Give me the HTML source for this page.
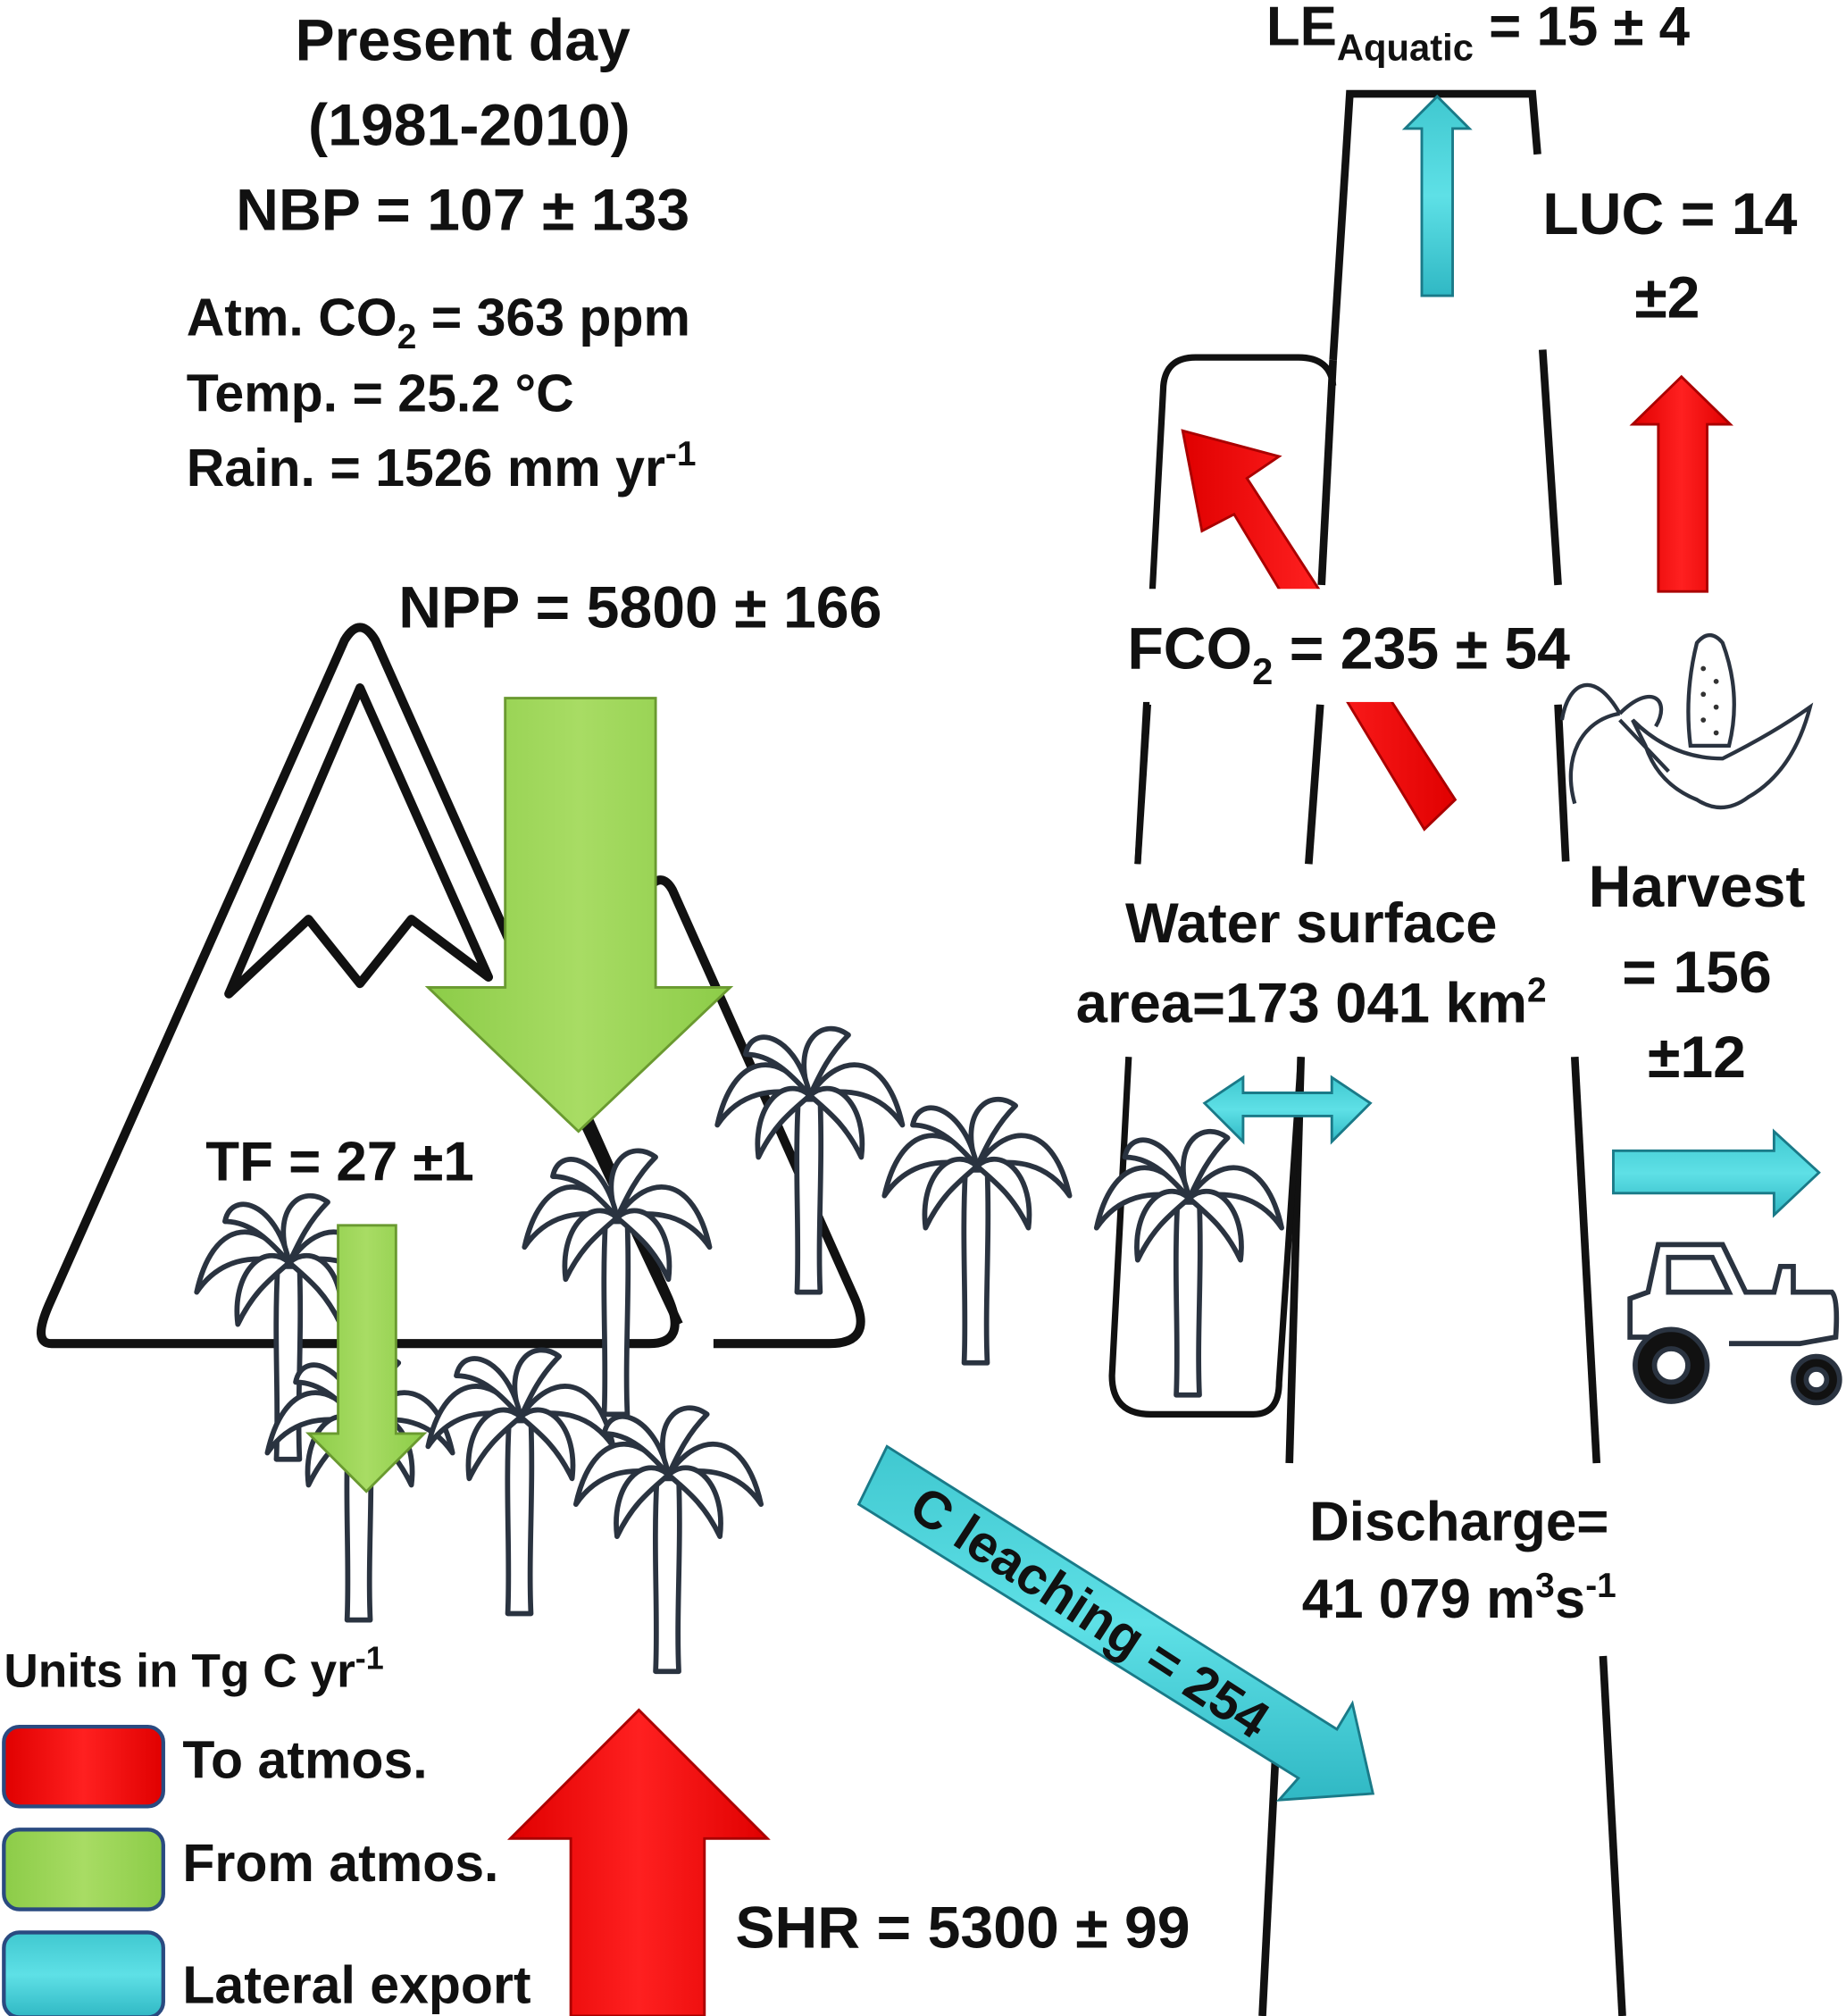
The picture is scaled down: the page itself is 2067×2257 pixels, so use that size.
<!DOCTYPE html>
<html><head><meta charset="utf-8"><style>
html,body{margin:0;padding:0;background:#fff}
svg{display:block}
text{font-family:"Liberation Sans",sans-serif;font-weight:bold;fill:#111}
</style></head><body>
<svg width="2067" height="2257" viewBox="0 0 1436 1568" xmlns="http://www.w3.org/2000/svg">
<defs>
<linearGradient id="g" x1="0" x2="1"><stop offset="0" stop-color="#8ccc48"/><stop offset=".5" stop-color="#a8dc64"/><stop offset="1" stop-color="#8ccc48"/></linearGradient>
<linearGradient id="r" x1="0" x2="1"><stop offset="0" stop-color="#e00000"/><stop offset=".5" stop-color="#ff2020"/><stop offset="1" stop-color="#e00000"/></linearGradient>
<linearGradient id="c" x1="0" y1="0" x2="0" y2="1"><stop offset="0" stop-color="#40c8d0"/><stop offset=".5" stop-color="#5ee0e6"/><stop offset="1" stop-color="#30b8c4"/></linearGradient>
<g id="palm" fill="#fff" stroke="#2a3340" stroke-width="4" stroke-linejoin="round">
<path d="M-9,25 C-12,80 -8,130 -10,175 L8,175 C6,130 10,80 8,25 Z"/>
<path d="M0,22 C-25,-15 -60,-10 -72,45 C-55,20 -30,15 0,22 Z"/>
<path d="M0,22 C25,-15 60,-10 72,45 C55,20 30,15 0,22 Z"/>
<path d="M0,22 C-15,-20 10,-40 30,-25 C15,-10 8,5 0,22 Z"/>
<path d="M0,22 C-10,-25 -45,-35 -50,-10 C-30,-10 -15,5 0,22 Z"/>
<path d="M0,22 C-20,5 -45,30 -40,70 C-28,45 -15,35 0,22 Z"/>
<path d="M0,22 C20,5 45,30 40,70 C28,45 15,35 0,22 Z"/>
</g>
</defs>

<text x="360" y="47" font-size="46" text-anchor="middle">Present day</text>
<text x="365" y="113" font-size="46" text-anchor="middle">(1981-2010)</text>
<text x="360" y="179" font-size="46" text-anchor="middle">NBP = 107 ± 133</text>
<text x="145" y="261" font-size="41">Atm. CO<tspan font-size="27" dy="10">2</tspan><tspan dy="-10"> = 363 ppm</tspan></text>
<text x="145" y="320" font-size="41">Temp. = 25.2 °C</text>
<text x="145" y="378" font-size="41">Rain. = 1526 mm yr<tspan font-size="27" dy="-16">-1</tspan></text>
<text x="310" y="488" font-size="46">NPP = 5800 ± 166</text>

<g fill="none" stroke="#111" stroke-width="7" stroke-linejoin="round">
<path d="M505,690 Q515,678 523,692 L665,1010 Q680,1045 645,1045 L555,1045"/>
<path d="M40,1045 Q25,1045 38,1015 L268,498 Q280,478 292,498 L520,1010 Q535,1045 505,1045 Z" fill="#fff"/>
<path d="M178,773 L280,535 L380,760 L320,715 L280,765 L240,715 Z"/>
<path d="M420,800 L528,1030"/>
</g>

<g fill="none" stroke="#111" stroke-width="6">
<path d="M1037,280 L1050,73 L1192,73 L1196,120"/>
<path d="M1037,280 L1028,455"/>
<path d="M1027,548 L1018,672"/>
<path d="M1012,822 L1003,1138"/>
<path d="M992,1370 L982,1568"/>
<path d="M1200,272 L1212,455"/>
<path d="M1212,548 L1218,670"/>
<path d="M1225,822 L1242,1138"/>
<path d="M1247,1288 L1262,1568"/>
<path d="M885,672 L905,300 Q907,278 930,278 L1010,278 Q1035,278 1037,300" stroke-width="5"/>
<path d="M893,548 L885,672" stroke-width="5"/>
<path d="M878,822 L865,1070 Q865,1100 895,1100 L975,1100 Q995,1100 995,1075 L1012,822" stroke-width="5"/>
</g>

<use href="#palm" transform="translate(630,830)"/>
<use href="#palm" transform="translate(760,885)"/>
<use href="#palm" transform="translate(925,910)"/>
<use href="#palm" transform="translate(480,925)"/>
<use href="#palm" transform="translate(225,960)"/>
<use href="#palm" transform="translate(280,1085)"/>
<use href="#palm" transform="translate(405,1080)"/>
<use href="#palm" transform="translate(520,1125)"/>

<polygon points="1132,622 1108,645 960,400 935,413 920,335 995,355 970,372" fill="url(#r)" stroke="#a00" stroke-width="2"/>
<rect x="868" y="458" width="340" height="88" fill="#fff"/>
<text x="877" y="520" font-size="46">FCO<tspan font-size="29" dy="12">2</tspan><tspan dy="-12"> = 235 ± 54</tspan></text>

<polygon points="393,543 510,543 510,768 568,768 450,880 333,768 393,768" fill="url(#g)" stroke="#6a9a30" stroke-width="2"/>
<polygon points="263,953 308,953 308,1115 330,1115 285,1160 240,1115 263,1115" fill="url(#g)" stroke="#6a9a30" stroke-width="2"/>
<text x="160" y="918" font-size="43">TF = 27 ±1</text>

<polygon points="444,1568 444,1430 397,1430 497,1330 597,1430 548,1430 548,1568" fill="url(#r)" stroke="#a00" stroke-width="2"/>
<text x="572" y="1515" font-size="46">SHR = 5300 ± 99</text>

<polygon points="668,1170 690,1125 1040,1345 1052,1325 1068,1395 995,1400 1010,1383" fill="url(#c)" stroke="#1a7a88" stroke-width="2"/>
<text font-size="41" transform="translate(705,1178) rotate(33)">C leaching = 254</text>

<polygon points="1106,230 1130,230 1130,100 1143,100 1118,75 1093,100 1106,100" fill="url(#c)" stroke="#1a7a88" stroke-width="2"/>
<text x="985" y="35" font-size="43">LE<tspan font-size="29" dy="12">Aquatic</tspan><tspan dy="-12"> = 15 ± 4</tspan></text>

<text x="1200" y="182" font-size="46">LUC = 14</text>
<text x="1297" y="247" font-size="46" text-anchor="middle">±2</text>
<polygon points="1290,460 1328,460 1328,330 1346,330 1308,293 1270,330 1290,330" fill="url(#r)" stroke="#a00" stroke-width="2"/>

<g fill="#fff" stroke="#2a3340" stroke-width="3">
<path d="M1320,500 Q1310,540 1315,580 L1345,580 Q1355,540 1340,500 Q1330,488 1320,500 Z"/>
<path d="M1270,560 Q1300,590 1340,590 Q1380,570 1408,550 Q1395,600 1360,620 Q1340,635 1320,622 Q1290,610 1280,580 Z"/>
<path d="M1260,555 C1240,520 1220,530 1215,560 M1260,555 C1230,560 1215,590 1225,625 M1260,555 C1285,530 1300,545 1288,565 M1260,560 L1298,600"/>
</g>
<g fill="#333"><circle cx="1325" cy="520" r="2"/><circle cx="1335" cy="530" r="2"/><circle cx="1325" cy="540" r="2"/><circle cx="1335" cy="550" r="2"/><circle cx="1325" cy="560" r="2"/><circle cx="1335" cy="570" r="2"/></g>

<text x="1320" y="705" font-size="46" text-anchor="middle">Harvest</text>
<text x="1320" y="772" font-size="46" text-anchor="middle">= 156</text>
<text x="1320" y="838" font-size="46" text-anchor="middle">±12</text>
<polygon points="1255,895 1380,895 1380,880 1415,912 1380,945 1380,928 1255,928" fill="url(#c)" stroke="#1a7a88" stroke-width="2"/>

<g fill="#fff" stroke="#2a3340" stroke-width="4">
<path d="M1285,1040 L1268,1040 L1268,1010 L1282,1005 L1290,968 L1340,968 L1358,1005 L1380,1005 L1385,985 L1395,985 L1395,1005 L1425,1005 Q1430,1010 1428,1040 L1400,1045 L1345,1045"/>
<path d="M1298,978 L1332,978 L1345,1005 L1298,1005 Z"/>
<circle cx="1300" cy="1062" r="28" fill="#111"/><circle cx="1300" cy="1062" r="13"/>
<circle cx="1413" cy="1073" r="18" fill="#111"/><circle cx="1413" cy="1073" r="8"/>
</g>

<text x="1020" y="733" font-size="44" text-anchor="middle">Water surface</text>
<text x="1020" y="795" font-size="44" text-anchor="middle">area=173 041 km<tspan font-size="27" dy="-16">2</tspan></text>
<polygon points="937,858 967,838 967,850 1036,850 1036,838 1066,858 1036,888 1036,868 967,868 967,888" fill="url(#c)" stroke="#1a7a88" stroke-width="2"/>

<text x="1135" y="1198" font-size="43" text-anchor="middle">Discharge=</text>
<text x="1135" y="1258" font-size="43" text-anchor="middle">41 079 m<tspan font-size="27" dy="-16">3</tspan><tspan dy="16">s</tspan><tspan font-size="27" dy="-16">-1</tspan></text>

<text x="3" y="1312" font-size="37">Units in Tg C yr<tspan font-size="25" dy="-14">-1</tspan></text>
<rect x="3" y="1343" width="124" height="62" rx="12" fill="url(#r)" stroke="#2a4a80" stroke-width="3"/>
<rect x="3" y="1423" width="124" height="62" rx="12" fill="url(#g)" stroke="#2a4a80" stroke-width="3"/>
<rect x="3" y="1503" width="124" height="66" rx="12" fill="url(#c)" stroke="#2a4a80" stroke-width="3"/>
<text x="142" y="1383" font-size="41">To atmos.</text>
<text x="142" y="1463" font-size="41">From atmos.</text>
<text x="142" y="1558" font-size="41">Lateral export</text>
</svg>
</body></html>
